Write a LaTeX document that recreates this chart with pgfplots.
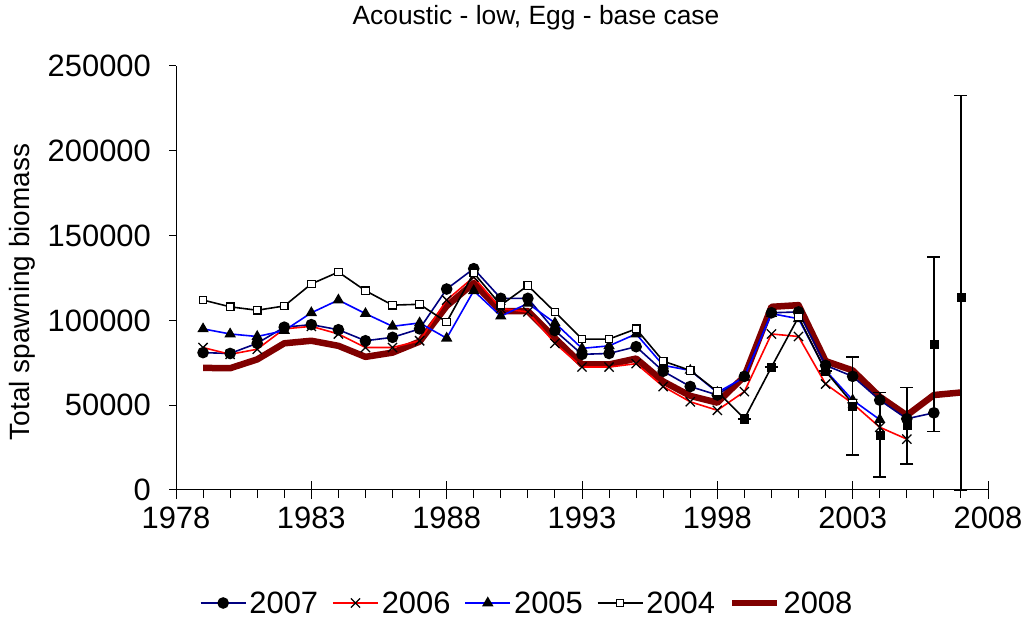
\documentclass[border=0pt]{standalone}
\usepackage{fontspec}
\setmainfont{Liberation Sans}
\usepackage{pgfplots}
\pgfplotsset{compat=1.18}

\definecolor{navyline}{RGB}{0,0,128}
\definecolor{blueline}{RGB}{0,0,255}
\definecolor{redline}{RGB}{255,0,0}
\definecolor{maroonline}{RGB}{128,0,0}

% Assessment runs: total spawning biomass by year
\pgfplotstableread{
year b2007 b2006 b2005 b2004 b2008
1979 81000 84000 95000 112000 72000
1980 80500 80000 92000 108000 71800
1981 86500 83000 90500 106000 77000
1982 96000 95000 94000 108500 86500
1983 97500 96500 104500 121500 88000
1984 94500 92000 112000 128500 85000
1985 88000 84000 104000 117500 78500
1986 90000 84000 96500 109000 81000
1987 95000 88000 98500 109500 87500
1988 118500 112000 89500 99000 108500
1989 130500 125500 117500 128000 122000
1990 113000 107000 102500 109000 105500
1991 113000 105000 110000 120500 105500
1992 94000 86500 98500 105000 89500
1993 80000 72500 83500 89000 74000
1994 80500 72500 85000 89000 74000
1995 84500 74500 92000 95000 77500
1996 70000 61000 73500 76000 64000
1997 61000 52000 70500 70500 55500
1998 56000 47000 57500 58000 51500
1999 67000 58000 66500 42000 67000
2000 104500 92000 104000 72500 108000
2001 105000 90500 101000 102000 109000
2002 73500 62500 70500 70000 76000
2003 67000 51000 53000 51000 70500
2004 53000 37000 41500 nan 55000
2005 42000 30000 nan nan 44000
2006 45500 nan nan nan 56000
2007 nan nan nan nan 57500
}\ssbtable

\begin{document}
\begin{tikzpicture}
\useasboundingbox (0,0) rectangle (1027bp,621bp);
\begin{axis}[
  at={(176bp,131bp)}, anchor=south west,
  width=812bp, height=424bp, scale only axis,
  xmin=1978, xmax=2008, ymin=0, ymax=250000,
  axis lines*=left,
  axis line style={line width=1bp, black},
  clip=false,
  unbounded coords=jump,
  /pgf/number format/assume math mode=true,
  /pgf/number format/fixed,
  /pgf/number format/1000 sep={},
  scaled y ticks=false,
  scaled x ticks=false,
  tick style={line width=1bp, black},
  major tick length=7bp,
  minor tick length=8bp,
  tick align=outside,
  xtick={1978,1983,...,2008},
  minor xtick={1979,1980,...,2007},
  extra x ticks={1978,1983,1988,1993,1998,2003,2008},
  extra x tick style={major tick length=18bp, tick align=center,
    xticklabel=\empty},
  ytick={0,50000,...,250000},
  yticklabels={0,50000,100000,150000,200000,250000},
  ticklabel style={font=\fontsize{31}{36}\selectfont},
  xticklabel style={inner sep=0pt, yshift=-10bp},
  yticklabel style={inner sep=0pt, xshift=-18bp},
  legend style={at={(0.433,-0.2665)}, anchor=center, draw=none, fill=none,
    legend columns=-1, font=\fontsize{31}{36}\selectfont,
    /tikz/every even column/.append style={column sep=11bp},
    nodes={inner sep=3bp}},
  legend image code/.code={\draw[mark repeat=2, mark phase=2, #1]
    plot coordinates {(0bp,0bp) (22.5bp,0bp) (45bp,0bp)};},
]
% 2008 run sits underneath the others
\addplot[maroonline, line width=6.5bp, line join=round, forget plot]
  table[x=year, y=b2008] {\ssbtable};
\addplot[navyline, line width=1.6bp, mark=*, mark size=5bp,
  mark options={fill=black, draw=black, solid}]
  table[x=year, y=b2007] {\ssbtable};
\addlegendentry{2007}
\addplot[redline, line width=1.6bp, mark=x, mark size=6.5bp,
  mark options={draw=black, line width=1.3bp}]
  table[x=year, y=b2006] {\ssbtable};
\addlegendentry{2006}
\addplot[blueline, line width=1.6bp, mark=triangle*, mark size=5bp,
  mark options={fill=black, draw=black}]
  table[x=year, y=b2005] {\ssbtable};
\addlegendentry{2005}
\addplot[black, line width=1.6bp, mark=square*, mark size=3.8bp,
  mark options={fill=white, draw=black, line width=1.2bp}]
  table[x=year, y=b2004] {\ssbtable};
\addlegendentry{2004}
\addlegendimage{maroonline, line width=6.5bp}
\addlegendentry{2008}
% acoustic survey index with confidence intervals
\addplot[only marks, mark=square*, mark size=4bp, black, forget plot,
  error bars/.cd, y dir=both, y explicit,
  error bar style={line width=1.6bp, black},
  error mark options={rotate=90, mark size=6.5bp, line width=1.6bp, black}]
  coordinates {
  (1999,42000) +- (0,0)
  (2000,72500) +- (0,0)
  (2002,70000) +- (0,0)
  (2003,49500) +- (0,29000)
  (2004,32500) +- (0,25000)
  (2005,38000) +- (0,22500)
  (2006,86000) +- (0,51500)
  (2007,113500) += (0,119000) -= (0,113500)
  };
\end{axis}
\node[font=\fontsize{26.5}{31}\selectfont] at (536bp,603bp) {Acoustic - low, Egg - base case};
\node[rotate=90, font=\fontsize{28}{33}\selectfont] at (22bp,329bp) {Total spawning biomass};
\end{tikzpicture}
\end{document}
